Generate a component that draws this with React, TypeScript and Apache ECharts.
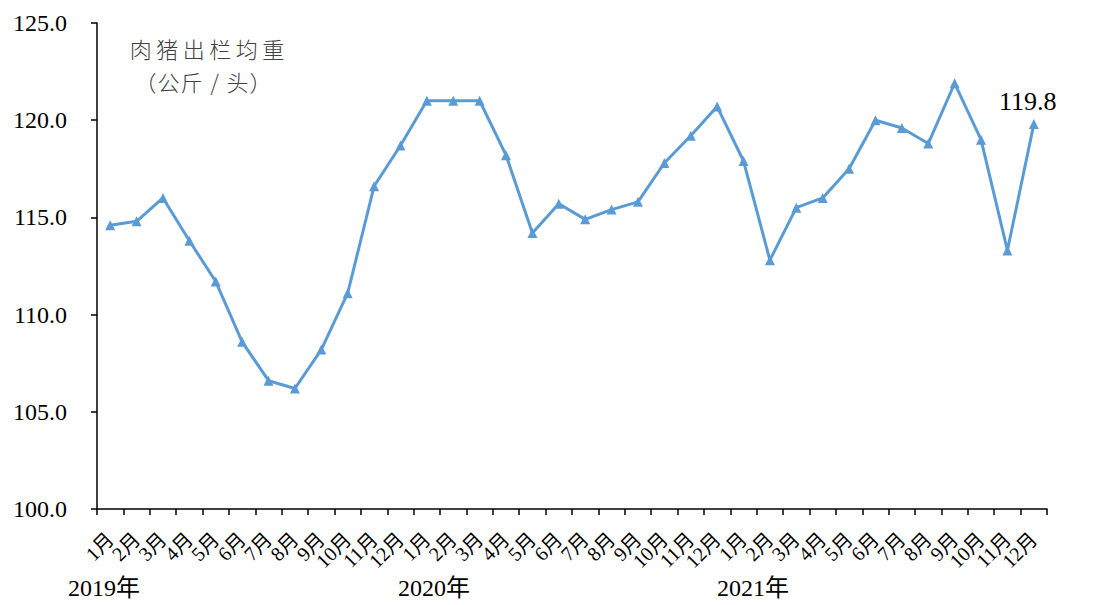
import React, { useEffect, useRef } from "react";
import * as echarts from "echarts";

const years = ["2019年", "2020年", "2021年"];
const months = ["1月", "2月", "3月", "4月", "5月", "6月", "7月", "8月", "9月", "10月", "11月", "12月"];
const categories: string[] = years.flatMap((y) => months.map((m) => `${y}${m}`));
const weights2019 = [114.6, 114.8, 116.0, 113.8, 111.7, 108.6, 106.6, 106.2, 108.2, 111.1, 116.6, 118.7];
const weights2020 = [121.0, 121.0, 121.0, 118.2, 114.2, 115.7, 114.9, 115.4, 115.8, 117.8, 119.2, 120.7];
const weights2021 = [117.9, 112.8, 115.5, 116.0, 117.5, 120.0, 119.6, 118.8, 121.9, 119.0, 113.3, 119.8];
const weights = [...weights2019, ...weights2020, ...weights2021];
const yTicks = { min: 100, max: 125, interval: 5 };
const titleLines = ["肉猪出栏均重", "（公斤/头）"];

const serif = "'Times New Roman', 'Liberation Serif', 'Noto Sans CJK SC', serif";
const cjk = "'Noto Sans CJK SC', sans-serif";

export default function App() {
  const ref = useRef<HTMLDivElement>(null);
  useEffect(() => {
    if (!ref.current) return;
    const chart = echarts.init(ref.current, undefined, { renderer: "svg" });
    const lastIdx = weights.length - 1;
    const spacedTitle = (text: string, cx: number, cy: number, step: number, size: number) => {
      const chars = Array.from(text);
      const start = cx - ((chars.length - 1) * step) / 2;
      return chars.map((ch, i) => ({
        type: "text",
        x: start + i * step,
        y: cy,
        style: {
          text: ch,
          fontFamily: cjk,
          fontSize: size,
          fontWeight: 300,
          fill: "#404040",
          align: "center",
          verticalAlign: "middle",
        },
      }));
    };
    chart.setOption({
      animation: false,
      grid: { left: 97, right: 50, top: 23, bottom: 96, containLabel: false },
      xAxis: {
        type: "category",
        data: categories,
        boundaryGap: true,
        axisLine: { show: true, lineStyle: { color: "#000", width: 1.5 } },
        axisTick: { show: true, alignWithLabel: false, length: 6, lineStyle: { color: "#000", width: 1.5 } },
        axisLabel: {
          interval: 0,
          rotate: 45,
          margin: 27,
          fontFamily: serif,
          fontSize: 20,
          color: "#000",
          formatter: (v: string) => v.slice(5),
        },
        splitLine: { show: false },
      },
      yAxis: {
        type: "value",
        min: yTicks.min,
        max: yTicks.max,
        interval: yTicks.interval,
        axisLine: { show: true, lineStyle: { color: "#000", width: 1.5 } },
        axisTick: { show: true, inside: false, length: 6, lineStyle: { color: "#000", width: 1.5 } },
        axisLabel: {
          margin: 30,
          fontFamily: serif,
          fontSize: 24,
          color: "#000",
          formatter: (v: number) => v.toFixed(1),
        },
        splitLine: { show: false },
      },
      series: [
        {
          type: "line",
          data: weights.map((v, i) =>
            i === lastIdx
              ? {
                  value: v,
                  label: {
                    show: true,
                    position: "top",
                    distance: 5,
                    offset: [-6, 0],
                    fontFamily: serif,
                    fontSize: 26,
                    color: "#000",
                    formatter: (p: any) => Number(p.value).toFixed(1),
                  },
                }
              : v
          ),
          symbol: "triangle",
          symbolSize: 10,
          lineStyle: { color: "#5B9BD5", width: 3 },
          itemStyle: { color: "#5B9BD5" },
        },
      ],
      graphic: [
        ...spacedTitle(titleLines[0], 207, 48, 26.5, 22),
        ...spacedTitle(titleLines[1], 203, 81, 23, 22),
        ...years.map((y, i) => ({
          type: "text",
          left: [68, 398, 717][i],
          top: 576,
          style: { text: y, fontFamily: serif, fontSize: 24, fill: "#000" },
        })),
      ],
    });
    return () => chart.dispose();
  }, []);
  return <div ref={ref} style={{ position: "fixed", left: 0, top: 0, width: 1097, height: 605, background: "#fff" }} />;
}
